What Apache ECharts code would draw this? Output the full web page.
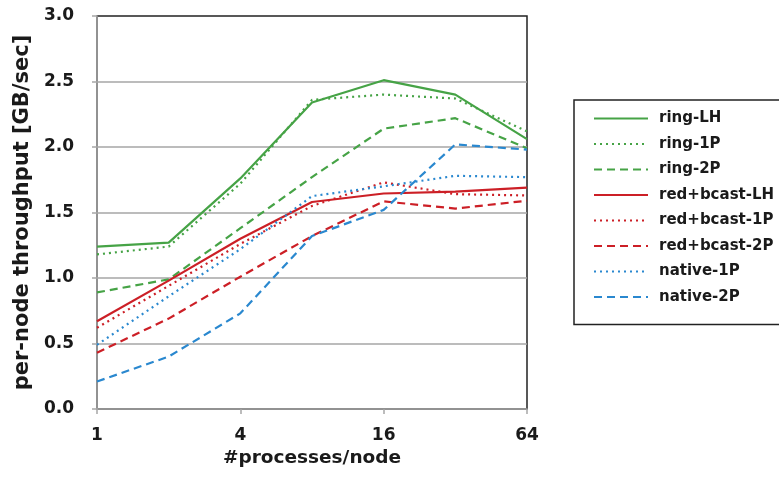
<!DOCTYPE html>
<html><head><meta charset="utf-8">
<script src="https://cdn.jsdelivr.net/npm/echarts@6/dist/echarts.min.js"></script>
<style>html,body{margin:0;padding:0;background:#fff}#c{width:779px;height:477px}</style>
</head><body><div id="c"></div>
<script>
var procs = [1, 2, 4, 8, 16, 32, 64];
var xTicks = [1, 4, 16, 64];
var yTicks = [0, 0.5, 1.0, 1.5, 2.0, 2.5, 3.0];
var ringLH  = [1.24, 1.27, 1.76, 2.34, 2.51, 2.40, 2.06];
var ring1P  = [1.18, 1.24, 1.72, 2.36, 2.40, 2.37, 2.12];
var ring2P  = [0.89, 0.99, 1.38, 1.77, 2.14, 2.22, 1.99];
var redLH   = [0.67, 0.98, 1.30, 1.58, 1.645, 1.66, 1.69];
var red1P   = [0.62, 0.94, 1.26, 1.55, 1.73, 1.64, 1.63];
var red2P   = [0.43, 0.69, 1.01, 1.32, 1.585, 1.53, 1.59];
var nat1P   = [0.49, 0.86, 1.22, 1.625, 1.70, 1.78, 1.77];
var nat2P   = [0.21, 0.40, 0.73, 1.32, 1.52, 2.02, 1.98];
var names = ['ring-LH','ring-1P','ring-2P','red+bcast-LH','red+bcast-1P','red+bcast-2P','native-1P','native-2P'];

var GREEN = '#46a346', RED = '#cc1f26', BLUE = '#2a88cf';
var DOT = [2, 4], DASH = [8, 5];
var styles = [
  [ringLH, GREEN, 'solid'], [ring1P, GREEN, DOT], [ring2P, GREEN, DASH],
  [redLH, RED, 'solid'], [red1P, RED, DOT], [red2P, RED, DASH],
  [nat1P, BLUE, DOT], [nat2P, BLUE, DASH]
];
var series = styles.map(function (s, i) {
  return {
    name: names[i], type: 'line', symbol: 'none', smooth: false,
    data: procs.map(function (p, j) { return [p, s[0][j]]; }),
    lineStyle: { color: s[1], width: 2.2, type: s[2] },
    itemStyle: { color: s[1] }
  };
});
var font = 'DejaVu Sans, sans-serif';
var TXT = '#1a1a1a';
var chart = echarts.init(document.getElementById('c'), null, { renderer: 'canvas' });
chart.setOption({
  animation: false,
  grid: { left: 97, right: 252, top: 16, bottom: 68, show: true, borderColor: '#222', borderWidth: 1.5, backgroundColor: 'transparent' },
  xAxis: {
    type: 'log', logBase: 2, min: 1, max: 64, interval: 2,
    name: '#processes/node', nameLocation: 'middle', nameGap: 37,
    nameTextStyle: { fontFamily: font, fontWeight: 'bold', fontSize: 18.5, color: TXT },
    axisLine: { lineStyle: { color: '#a6a6a6', width: 1.5 } },
    axisTick: { show: true, length: 5, lineStyle: { color: '#a6a6a6', width: 1.5 } },
    axisLabel: { fontFamily: font, fontWeight: 'bold', fontSize: 17, color: TXT, margin: 18,
      formatter: function (v) { return xTicks.indexOf(Math.round(v)) >= 0 ? String(Math.round(v)) : ''; } },
    splitLine: { show: false }
  },
  yAxis: {
    type: 'value', min: yTicks[0], max: yTicks[yTicks.length - 1], interval: 0.5,
    name: 'per-node throughput [GB/sec]', nameLocation: 'middle', nameGap: 58,
    nameTextStyle: { fontFamily: font, fontWeight: 'bold', fontSize: 21, color: TXT },
    axisLine: { show: true, lineStyle: { color: '#a6a6a6', width: 1.5 } },
    axisTick: { show: true, length: 5, lineStyle: { color: '#a6a6a6', width: 1.5 } },
    axisLabel: { fontFamily: font, fontWeight: 'bold', fontSize: 17, color: TXT, margin: 23,
      formatter: function (v) { return v.toFixed(1); } },
    splitLine: { show: true, showMaxLine: false, showMinLine: false, lineStyle: { color: '#a6a6a6', width: 1.5 } }
  },
  legend: {
    orient: 'vertical', left: 574, top: 100, data: names,
    itemWidth: 54, itemHeight: 14, itemGap: 10.5,
    padding: [11, 15, 20, 19],
    borderColor: '#222', borderWidth: 1.5,
    itemStyle: { opacity: 0 },
    textStyle: { fontFamily: font, fontWeight: 'bold', fontSize: 15, lineHeight: 14, color: TXT, padding: [0, 0, 0, 6] },
    selectedMode: false
  },
  series: series
});
</script></body></html>
